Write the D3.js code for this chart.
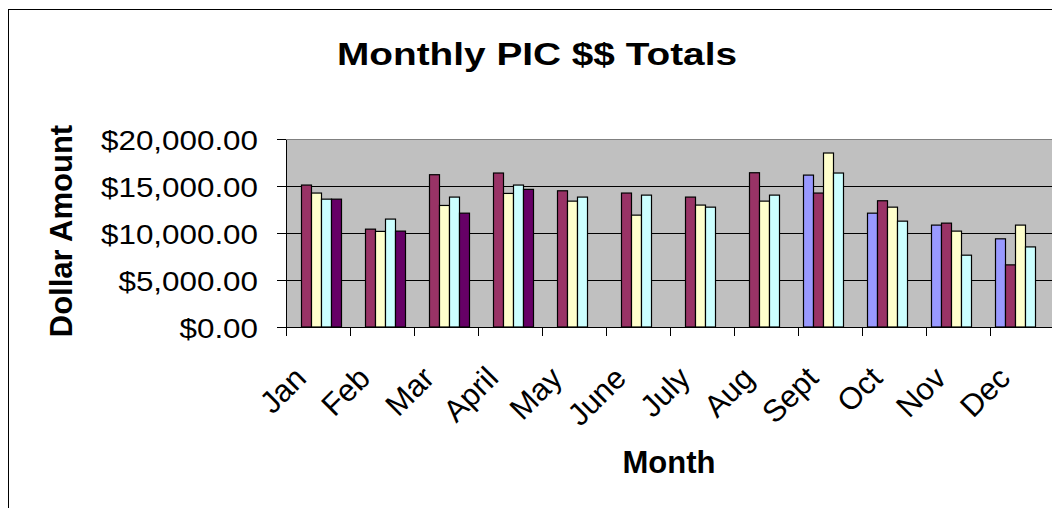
<!DOCTYPE html>
<html>
<head>
    <meta charset="UTF-8">
    <title>Monthly PIC $$ Totals</title>
    <style>
        body {
            margin: 0;
            background: #fff;
        }

        svg text {
            font-family: "Liberation Sans", Arial, sans-serif;
            fill: #000;
        }

        .axis path,
        .axis line {
            fill: none;
            stroke: #000;
            shape-rendering: crispEdges;
        }

        .grid line {
            stroke: #000;
            shape-rendering: crispEdges;
        }

        .bar {
            stroke: #000;
            stroke-width: 1.2px;
        }
    </style>
</head>

<body>
<script src="https://cdn.jsdelivr.net/npm/d3@7/dist/d3.min.js"></script>
<script>
    // months on the x axis
    var months = ["Jan", "Feb", "Mar", "April", "May", "June", "July", "Aug", "Sept", "Oct", "Nov", "Dec"];

    // five series, no legend in the original
    var seriesNames = ["Series1", "Series2", "Series3", "Series4", "Series5"];
    var seriesColors = ["#9999ff", "#993366", "#ffffcc", "#ccffff", "#660066"];

    var series1 = [null, null, null, null, null, null, null, null, 16160, 12110, 10840, 9380];
    var series2 = [15100, 10410, 16200, 16380, 14490, 14250, 13820, 16410, 14250, 13430, 11050, 6610];
    var series3 = [14250, 10170, 12930, 14210, 13390, 11900, 12970, 13390, 18510, 12750, 10200, 10840];
    var series4 = [13600, 11480, 13820, 15100, 13820, 14030, 12750, 14030, 16380, 11260, 7640, 8520];
    var series5 = [13600, 10200, 12110, 14640, null, null, null, null, null, null, null, null];

    var yTicks = [0, 5000, 10000, 15000, 20000];

    var allSeries = [series1, series2, series3, series4, series5];

    var W = 1052, H = 508;
    var plot = {left: 286, top: 139, bottom: 327, catWidth: 64};

    var svg = d3.select("body").append("svg")
        .attr("width", W)
        .attr("height", H);

    // chart border (runs off the right and bottom edge)
    svg.append("rect")
        .attr("x", 8.5).attr("y", 9.5)
        .attr("width", W + 20).attr("height", H + 20)
        .attr("fill", "#fff")
        .attr("stroke", "#000");

    var x = d3.scaleBand()
        .domain(months)
        .range([plot.left, plot.left + plot.catWidth * months.length]);

    var xs = d3.scaleBand()
        .domain(seriesNames)
        .range([5.5, 55.5]);

    var y = d3.scaleLinear()
        .domain([0, 20000])
        .range([plot.bottom, plot.top]);

    // plot area
    svg.append("rect")
        .attr("x", plot.left).attr("y", plot.top)
        .attr("width", x.range()[1] - plot.left)
        .attr("height", plot.bottom - plot.top)
        .attr("fill", "#c0c0c0");

    svg.append("line")
        .attr("x1", plot.left).attr("x2", x.range()[1])
        .attr("y1", y(20000) + 0.5).attr("y2", y(20000) + 0.5)
        .attr("stroke", "#808080");

    svg.append("g")
        .attr("class", "grid")
        .selectAll("line")
        .data(yTicks.filter((d) => d > 0 && d < 20000))
        .enter().append("line")
        .attr("x1", plot.left).attr("x2", x.range()[1])
        .attr("y1", (d) => Math.round(y(d)) + 0.5)
        .attr("y2", (d) => Math.round(y(d)) + 0.5);

    // bars
    var rows = [];
    allSeries.forEach(function(vals, si) {
        vals.forEach(function(v, mi) {
            if (v != null) rows.push({month: months[mi], series: seriesNames[si], color: seriesColors[si], value: v});
        });
    });

    svg.append("g")
        .selectAll("rect")
        .data(rows)
        .enter().append("rect")
        .attr("class", "bar")
        .attr("x", (d) => x(d.month) + xs(d.series))
        .attr("width", xs.bandwidth())
        .attr("y", (d) => y(d.value))
        .attr("height", (d) => y(0) - y(d.value))
        .attr("fill", (d) => d.color);

    // y axis
    var yAxis = d3.axisLeft(y)
        .tickValues(yTicks)
        .tickFormat(d3.format("$,.2f"))
        .tickSizeInner(9)
        .tickSizeOuter(0)
        .tickPadding(19);

    var gy = svg.append("g")
        .attr("class", "y axis")
        .attr("transform", `translate(${plot.left},0)`)
        .call(yAxis);

    gy.selectAll("text")
        .style("font-size", "28px")
        .attr("dy", "0.36em")
        .each(function() {
            var w = this.getComputedTextLength();
            d3.select(this).attr("textLength", w * 1.12).attr("lengthAdjust", "spacingAndGlyphs");
        });

    // x axis: labels at category centres, ticks at category boundaries
    var xAxis = d3.axisBottom(x).tickSize(0).tickPadding(0);

    var gx = svg.append("g")
        .attr("class", "x axis")
        .attr("transform", `translate(0,${plot.bottom})`)
        .call(xAxis);

    gx.selectAll(".tick text")
        .style("font-size", "31px")
        .attr("text-anchor", "end")
        .attr("y", 0).attr("dy", 0)
        .attr("transform", "translate(-10,53) rotate(-45)");

    gx.selectAll(".tickmark")
        .data(months.concat(["end"]))
        .enter().append("line")
        .attr("class", "tickmark")
        .attr("x1", (d, i) => Math.round(plot.left + i * x.bandwidth()) + 0.5)
        .attr("x2", (d, i) => Math.round(plot.left + i * x.bandwidth()) + 0.5)
        .attr("y1", 0).attr("y2", 9);

    // titles
    svg.append("text")
        .attr("x", 537).attr("y", 65)
        .attr("text-anchor", "middle")
        .style("font-size", "31px")
        .style("font-weight", "bold")
        .attr("textLength", 400)
        .attr("lengthAdjust", "spacingAndGlyphs")
        .text("Monthly PIC $$ Totals");

    svg.append("text")
        .attr("x", 669).attr("y", 473)
        .attr("text-anchor", "middle")
        .style("font-size", "31px")
        .style("font-weight", "bold")
        .text("Month");

    svg.append("text")
        .attr("transform", "translate(72,231) rotate(-90)")
        .attr("text-anchor", "middle")
        .style("font-size", "31px")
        .style("font-weight", "bold")
        .text("Dollar Amount");
</script>
</body>

</html>
